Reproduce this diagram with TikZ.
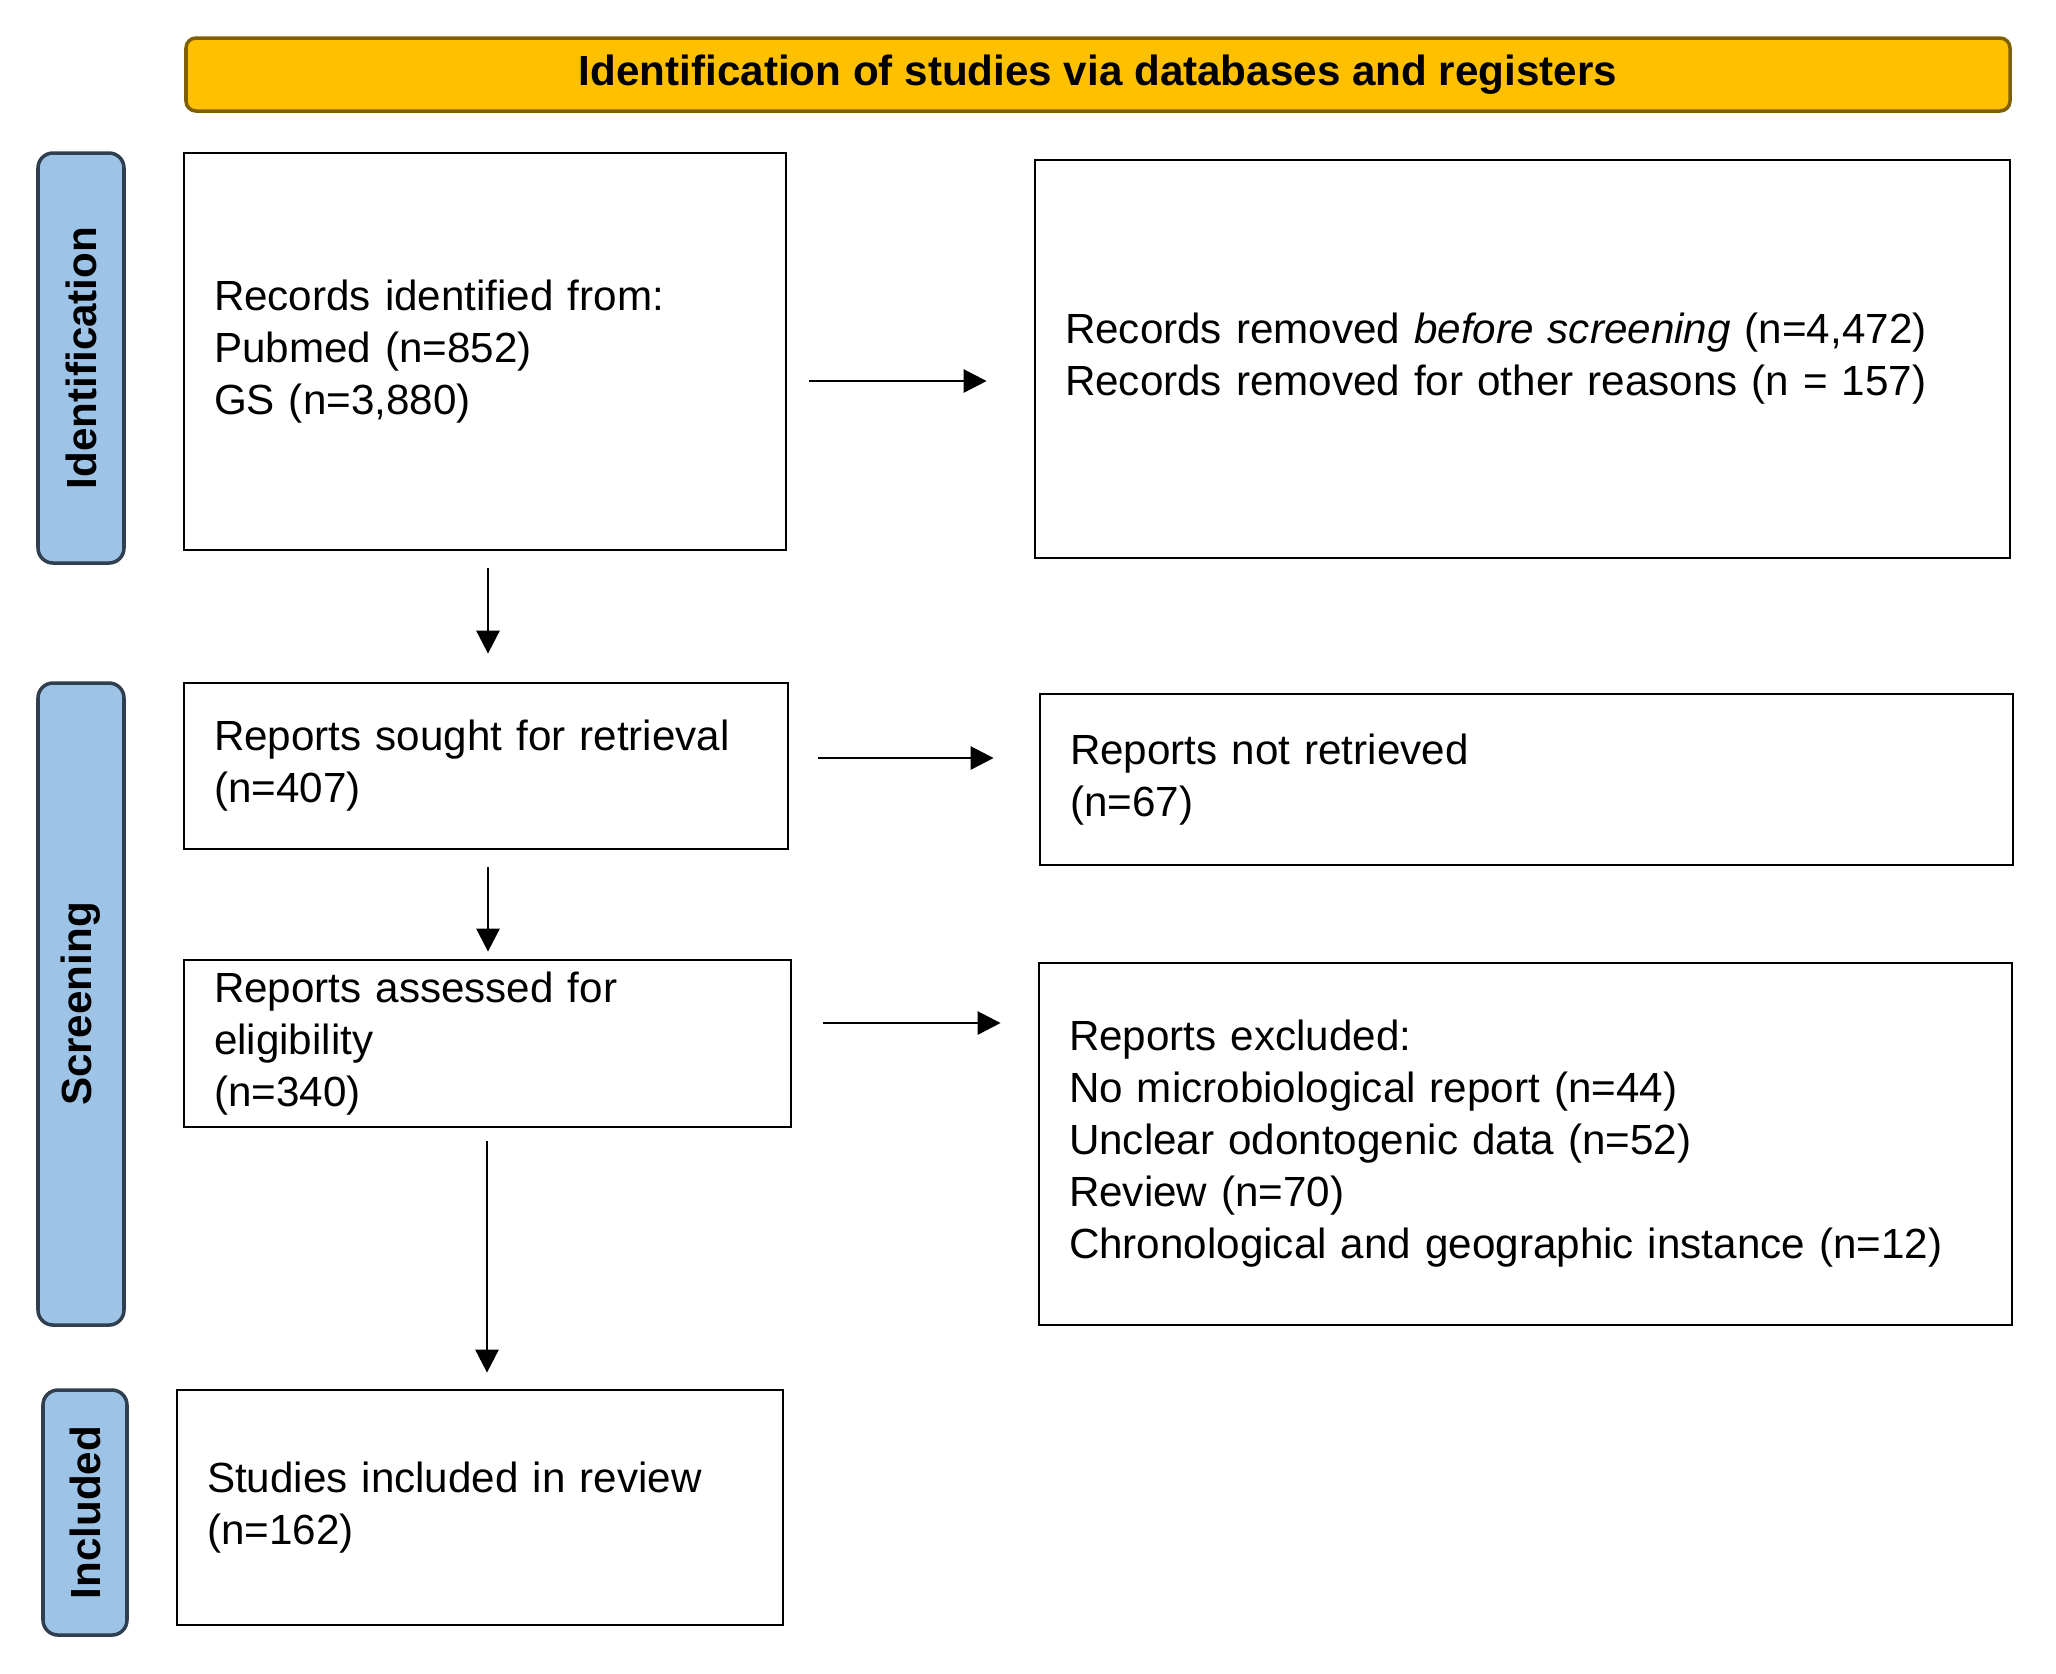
\documentclass[tikz,border=0pt]{standalone}
\usepackage{fontspec}
\setmainfont{Liberation Sans}
\usetikzlibrary{arrows.meta}

\definecolor{headfill}{HTML}{FFC000}
\definecolor{headdraw}{HTML}{7F6000}
\definecolor{sidefill}{HTML}{9DC3E6}
\definecolor{sidedraw}{HTML}{2F3F4F}

\begin{document}
\begin{tikzpicture}[->,>={Triangle[length=0.23cm,width=0.23cm]},line width=0.8pt,
        box/.style={rectangle,draw=black,align=left,inner xsep=0.3cm,font=\fontsize{12}{14.8}\selectfont},
        side/.style={rectangle,rounded corners=0.15cm,draw=sidedraw,fill=sidefill,line width=1pt,rotate=90,
            minimum height=0.86cm,font=\fontsize{12}{14}\selectfont\bfseries}]

    \useasboundingbox (0,0) rectangle (20.56,-16.73);

    % header and phase labels
    \node[rectangle, rounded corners=0.1cm, draw=headdraw, fill=headfill, line width=1pt,
        minimum width=18.24cm, minimum height=0.73cm, font=\fontsize{12}{14}\selectfont\bfseries]
        (head) at (10.98,-0.745) {Identification of studies via databases and registers};
    \node[side, minimum width=4.10cm] (ident) at (0.81,-3.58) {Identification};
    \node[side, minimum width=6.42cm] (screen) at (0.81,-10.04) {Screening};
    \node[side, minimum width=2.45cm, minimum height=0.84cm] (incl) at (0.85,-15.125) {Included};

    % boxes
    \node[box, minimum width=6.02cm, text width=5.42cm, minimum height=3.97cm] (recid) at (4.85,-3.515)
        {Records identified from:\\Pubmed (n=852)\\GS (n=3,880)};
    \node[box, minimum width=9.75cm, text width=9.15cm, minimum height=3.98cm] (removed) at (15.225,-3.59)
        {Records removed \textit{before screening} (n=4,472)\\Records removed for other reasons (n = 157)};
    \node[box, minimum width=6.04cm, text width=5.44cm, minimum height=1.66cm] (sought) at (4.86,-7.66)
        {Reports sought for retrieval\\(n=407)};
    \node[box, minimum width=9.73cm, text width=9.13cm, minimum height=1.71cm] (notret) at (15.265,-7.795)
        {Reports not retrieved\\(n=67)};
    \node[box, minimum width=6.07cm, text width=5.47cm, minimum height=1.67cm] (assessed) at (4.875,-10.435)
        {Reports assessed for\\eligibility\\(n=340)};
    \node[box, minimum width=9.73cm, text width=9.13cm, minimum height=3.62cm] (excluded) at (15.255,-11.44)
        {Reports excluded:\\No microbiological report (n=44)\\Unclear odontogenic data (n=52)\\Review (n=70)\\Chronological and geographic instance (n=12)};
    \node[box, minimum width=6.06cm, text width=5.46cm, minimum height=2.35cm] (included) at (4.80,-15.075)
        {Studies included in review\\(n=162)};

    % arrows
    \draw[shorten <=0.22cm, shorten >=0.47cm] ([yshift=-0.295cm]recid.east) -- ([yshift=-0.295cm]recid.east -| removed.west);
    \draw[shorten <=0.29cm, shorten >=0.45cm] ([yshift=0.08cm]sought.east) -- ([yshift=0.08cm]sought.east -| notret.west);
    \draw[shorten <=0.31cm, shorten >=0.37cm] ([yshift=0.205cm]assessed.east) -- ([yshift=0.205cm]assessed.east -| excluded.west);
    \draw[shorten <=0.17cm, shorten >=0.28cm] ([xshift=0.03cm]recid.south) -- ([xshift=0.03cm]recid.south |- sought.north);
    \draw[shorten <=0.17cm, shorten >=0.07cm] ([xshift=0.02cm]sought.south) -- ([xshift=0.02cm]sought.south |- assessed.north);
    \draw[shorten <=0.13cm, shorten >=0.16cm] ([xshift=0.07cm]included.north |- assessed.south) -- ([xshift=0.07cm]included.north);

\end{tikzpicture}
\end{document}
